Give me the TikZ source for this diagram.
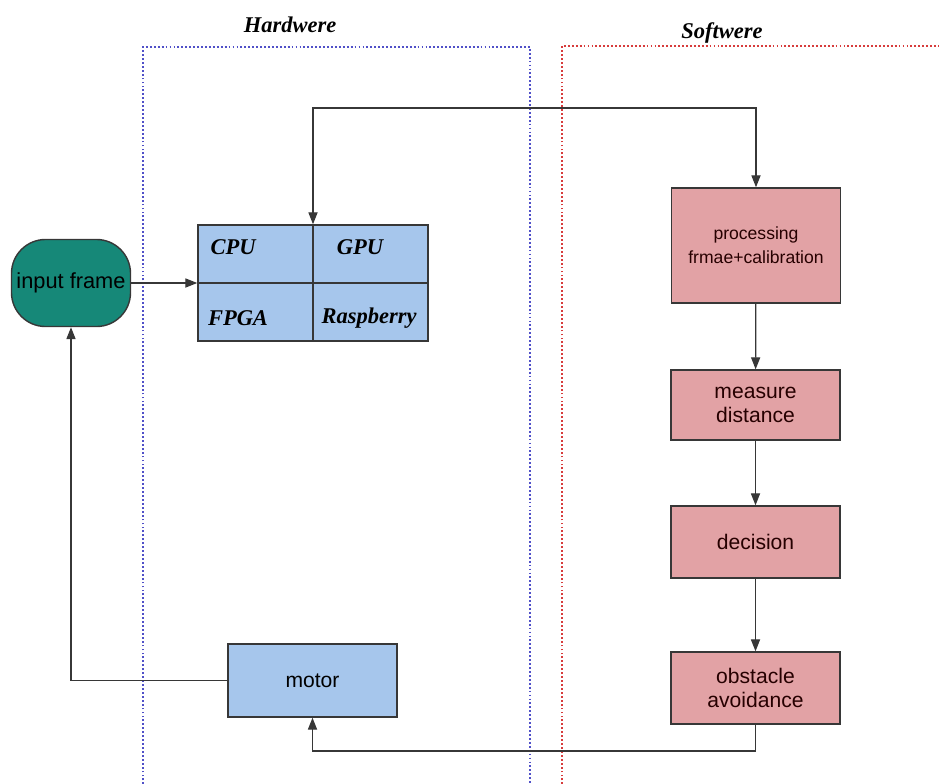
\documentclass[tikz,border=0pt]{standalone}
\usepackage{fontspec}
\setmainfont{Liberation Serif}
\setsansfont{Liberation Sans}
\usepackage{xcolor}
\usepackage{tikz}
\usetikzlibrary{positioning, calc, arrows.meta}
\definecolor{hwblue}{RGB}{166, 198, 236}
\definecolor{swpink}{RGB}{226, 162, 165}
\definecolor{frameteal}{RGB}{22, 136, 120}
\definecolor{edgegray}{RGB}{55, 55, 55}
\definecolor{dotblue}{RGB}{80, 80, 200}
\definecolor{dotred}{RGB}{215, 60, 60}
\tikzset{
    hwbox/.style={
        draw=edgegray, fill=hwblue, line width=1pt, minimum width=4.225cm, minimum height=1.825cm,
        font=\sffamily\fontsize{15}{17}\selectfont, align=center
    },
    swbox/.style={
        draw=edgegray, fill=swpink, line width=1pt, minimum width=4.225cm, minimum height=1.8cm,
        font=\sffamily\fontsize{15}{17}\selectfont, align=center, text=black!85!red
    },
    flow/.style={
        -{Triangle[length=8.5pt, width=6.5pt]}, line width=0.9pt, edgegray
    },
    celltext/.style={
        font=\fontsize{16}{18}\selectfont\bfseries\itshape
    }
}

\begin{document}
\begin{tikzpicture}[
        x=0.025cm, y=-0.025cm,
        % --- STYLE ---
        zone/.style={line width=1.3pt, dash pattern=on 1.3pt off 1.5pt},
        title/.style={font=\fontsize{16}{18}\selectfont\bfseries\itshape}
    ]
        \useasboundingbox (0,0) rectangle (939,783);

        % --- VÙNG HARDWARE / SOFTWARE ---
        \draw[zone, dotblue] (143,800) -- (143,47) -- (530,47) -- (530,800);
        \draw[zone, dotred] (562,800) -- (562,46) -- (945,46);
        \node[title] (hwtitle) at (290,25) {Hardwere};
        \node[title] (swtitle) at (722,33) {Softwere};

        % --- KHỐI PHẦN CỨNG ---
        \node[draw=edgegray, fill=frameteal, line width=1pt, rounded corners=0.85cm,
              minimum width=2.975cm, minimum height=2.175cm, inner sep=0pt,
              font=\sffamily\fontsize{15.5}{17}\selectfont] (inframe) at (71,283) {input frame};
        \node[draw=edgegray, fill=hwblue, line width=1pt, minimum width=5.75cm,
              minimum height=2.9cm] (board) at (313,283) {};
        \draw[edgegray, line width=1pt] (board.north) -- (board.south);
        \draw[edgegray, line width=1pt] (board.west) -- (board.east);
        \node[celltext] (cpu) at (233,247) {CPU};
        \node[celltext] (gpu) at (360,247) {GPU};
        \node[celltext] (fpga) at (238,318) {FPGA};
        \node[celltext] (rasp) at (369,318) {Raspberry};
        \node[hwbox] (motor) at (312.5,680.5) {motor};

        % --- KHỐI PHẦN MỀM ---
        \node[swbox, minimum height=2.875cm, font=\sffamily\fontsize{12.5}{17}\selectfont] (proc) at (756,245.5) {processing\\frmae+calibration};
        \node[swbox, minimum height=1.75cm] (meas) at (755.5,405) {measure\\distance};
        \node[swbox] (dec) at (755.5,542) {decision};
        \node[swbox] (obst) at (755.5,688) {obstacle\\avoidance};

        % --- MŨI TÊN ---
        \coordinate (loopL) at (313,108);
        \coordinate (loopB) at (755.5,751);
        \draw[flow] (inframe.east) -- (board.west);
        \draw[flow, {Triangle[length=8.5pt, width=6.5pt]}-{Triangle[length=8.5pt, width=6.5pt]}]
            (board.north) -- (loopL) -| (proc.north);
        \draw[flow] (proc) -- (meas);
        \draw[flow] (meas) -- (dec);
        \draw[flow] (dec) -- (obst);
        \draw[flow] (obst.south) -- (loopB) -| (motor.south);
        \draw[flow] (motor.west) -| (inframe.south);

    \end{tikzpicture}
\end{document}
